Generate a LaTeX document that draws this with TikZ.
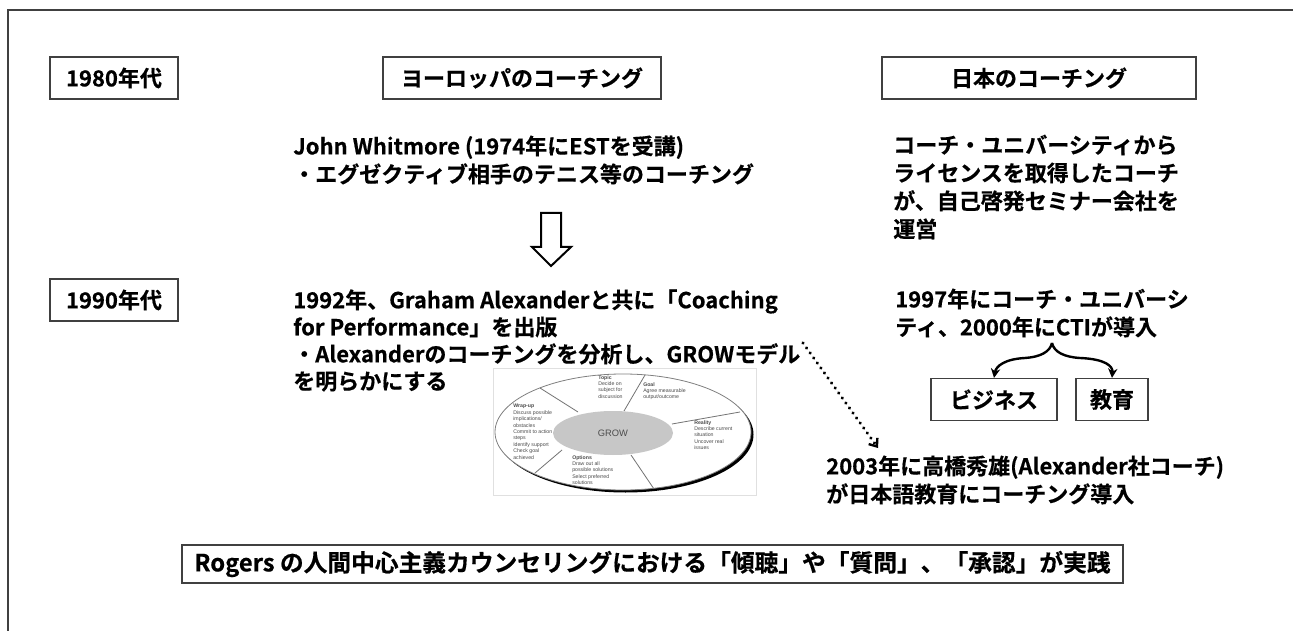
\documentclass[tikz,border=0pt]{standalone}
\usepackage{fontspec}
\setmainfont{Noto Sans CJK JP}[BoldFont={Noto Sans CJK JP Bold},BoldFeatures={FakeBold=0.5}]
\newfontfamily\growfont{Liberation Sans}
\usetikzlibrary{arrows.meta}
\begin{document}
\begin{tikzpicture}[x=0.75pt,y=-0.75pt,
  jp/.style={font=\fontsize{16.5}{21}\selectfont\bfseries},
  box/.style={jp,draw=black!75,line width=0.9pt,inner sep=0pt,minimum height=31.5pt},
  body/.style={jp,inner sep=0pt,align=left,anchor=west},
  spoke/.style={black!55,line width=0.6pt},
  tiny/.style={inner sep=0pt,anchor=north west,align=left,text=black!70,
    font=\growfont\fontsize{3.9}{4.8}\selectfont},
  brace/.style={line width=1.8pt,-{Stealth[length=7pt,width=7pt]}},
  dotline/.style={line width=2.6pt,line cap=round,dash pattern=on 0.01pt off 4.6pt,
    -{Straight Barb[length=5pt,width=8pt,line width=1.8pt]}}
]
\useasboundingbox (0,0) rectangle (1293,631);
\fill[white] (0,0) rectangle (1293,631);

% page frame
\draw[black!75,line width=1.1pt] (8,631) -- (8,10) -- (1293,10);

% headings
\node[box,minimum width=96pt]    (y80)  at (114,78)   {1980年代};
\node[box,minimum width=208.5pt] (eu)   at (522,78)   {ヨーロッパのコーチング};
\node[box,minimum width=235.5pt] (jpn)  at (1039,78)  {日本のコーチング};
\node[box,minimum width=96pt]    (y90)  at (114,300)  {1990年代};

% European column
\node[body] (whit) at (293,160) {John Whitmore (1974年にESTを受講)\\・エグゼクティブ相手のテニス等のコーチング};
\node[body,font=\fontsize{16.5}{20.3}\selectfont\bfseries] (perf) at (293,340.5)
  {1992年、Graham Alexanderと共に「Coaching\\for Performance」を出版\\・Alexanderのコーチングを分析し、GROWモデル\\を明らかにする};

% hollow down arrow
\draw[line width=1.5pt,line join=miter] (541,213) -- (561,213) -- (561,247) -- (571,247)
  -- (551,266) -- (532,247) -- (541,247) -- cycle;

% Japanese column
\node[body] (univ) at (893,187) {コーチ・ユニバーシティから\\ライセンスを取得したコーチ\\が、自己啓発セミナー会社を\\運営};
\node[body] (cti)  at (895,313) {1997年にコーチ・ユニバーシ\\ティ、2000年にCTIが導入};
\node[box,minimum width=94.5pt] (biz) at (994,399.5)  {ビジネス};
\node[box,minimum width=54pt]   (edu) at (1112,399.5) {教育};
\coordinate (peak) at (1052,343);
\draw[brace] (peak) .. controls (1050,352) and (1040,357) .. (1025,358)
  .. controls (1005,359) and (996,366) .. (biz.north);
\draw[brace] (peak) .. controls (1054,352) and (1064,357) .. (1080,358)
  .. controls (1105,359) and (1113,366) .. (edu.north);

\node[body] (taka) at (826,480) {2003年に高橋秀雄(Alexander社コーチ)\\が日本語教育にコーチング導入};
\coordinate (grow-end) at (803,343);
\coordinate (taka-in) at (878,448);
\draw[dotline] (grow-end) -- (taka-in);

% bottom statement
\node[box,minimum width=705.75pt,minimum height=28.5pt,font=\fontsize{17.8}{21}\selectfont\bfseries] (rog) at (652.5,564)
  {Rogers の人間中心主義カウンセリングにおける「傾聴」や「質問」、「承認」が実践};

% GROW model figure
\draw[black!12,line width=0.5pt] (493,368) rectangle (756,495);
\fill[black] (625.5,434.5) ellipse [x radius=128, y radius=58];
\fill[white] (623,432) ellipse [x radius=128, y radius=58];
\draw[black!50,line width=0.6pt] (623,432) ellipse [x radius=128, y radius=58];
\draw[spoke] (645,375) -- (624,411);
\draw[spoke] (540,388) -- (578,412);
\draw[spoke] (740,412) -- (672,424);
\draw[spoke] (631,455) -- (654,489);
\draw[spoke] (562,450) -- (535,473);
\fill[black!22] (613,433) ellipse [x radius=60, y radius=22];
\node[text=black!70,font=\growfont\fontsize{7}{8}\selectfont] (grow) at (613,433) {GROW};
\node[tiny] (topic) at (598,375) {\textbf{Topic}\\Decide on\\subject for\\discussion};
\node[tiny] (goal) at (643,382) {\textbf{Goal}\\Agree measurable\\output/outcome};
\node[tiny] (wrap) at (513,404) {\textbf{Wrap-up}\\Discuss possible\\implications/\\obstacles\\Commit to action\\steps\\Identify support\\Check goal\\achieved};
\node[tiny] (real) at (694,420) {\textbf{Reality}\\Describe current\\situation\\Uncover real\\issues};
\node[tiny] (opt) at (572,455) {\textbf{Options}\\Draw out all\\possible solutions\\Select preferred\\solutions};
\end{tikzpicture}
\end{document}
